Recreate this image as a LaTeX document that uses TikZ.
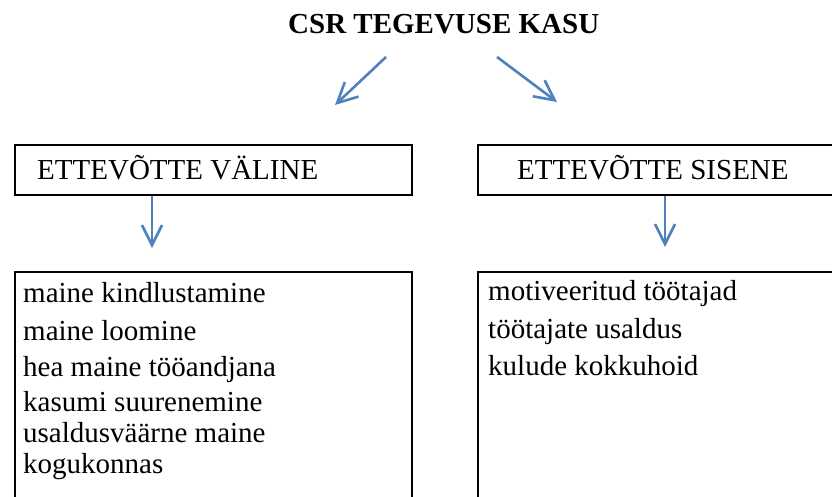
\documentclass[tikz,border=0pt]{standalone}
\usepackage{fontspec}
\setmainfont{Liberation Serif}
\usetikzlibrary{arrows.meta}
\definecolor{arrowblue}{HTML}{4F81BD}
\tikzset{
  boxframe/.style={draw=black, line width=2pt, rectangle, anchor=north west, inner sep=0pt},
  txt/.style={anchor=base west, inner sep=0pt, font=\fontsize{29}{35}\selectfont},
  ttl/.style={anchor=base west, inner sep=0pt, font=\fontsize{29}{35}\selectfont\bfseries},
  bluearrow/.style={draw=arrowblue, line width=2.6pt, -{Straight Barb[length=20pt,width=20pt,line width=2.6pt]}}
}
\begin{document}
\begin{tikzpicture}[x=1pt,y=-1pt]
\useasboundingbox (0,0) rectangle (832,496);
\clip (0,0) rectangle (832,496);
% title
\node[ttl] (title) at (288,33) {CSR TEGEVUSE KASU};
\coordinate (ls) at (386,57);
\coordinate (le) at (335,105);
\coordinate (rs) at (497,57);
\coordinate (re) at (557,102);
\draw[bluearrow] (ls) -- (le);
\draw[bluearrow] (rs) -- (re);
% header boxes
\node[boxframe, minimum width=397pt, minimum height=50pt] (ext) at (14,144) {};
\node[boxframe, minimum width=380pt, minimum height=50pt] (int) at (477,144) {};
\node[txt] (extt) at (37,179) {ETTEVÕTTE VÄLINE};
\node[txt] (intt) at (517,179) {ETTEVÕTTE SISENE};
% arrows down
\coordinate (ea) at (152,248);
\coordinate (ia) at (665,247);
\draw[bluearrow] (ext.south -| ea) -- (ea);
\draw[bluearrow] (int.south -| ia) -- (ia);
% lower boxes
\node[boxframe, minimum width=397pt, minimum height=260pt] (extlist) at (14,271) {};
\node[boxframe, minimum width=380pt, minimum height=260pt] (intlist) at (477,271) {};
% left list
\node[txt] (l1) at (23,302) {maine kindlustamine};
\node[txt] (l2) at (23,340) {maine loomine};
\node[txt] (l3) at (23,376) {hea maine tööandjana};
\node[txt] (l4) at (23,411) {kasumi suurenemine};
\node[txt] (l5) at (23,442) {usaldusväärne maine};
\node[txt] (l6) at (23,473) {kogukonnas};
% right list
\node[txt] (r1) at (488,300) {motiveeritud töötajad};
\node[txt] (r2) at (488,338) {töötajate usaldus};
\node[txt] (r3) at (488,375) {kulude kokkuhoid};
\end{tikzpicture}
\end{document}
